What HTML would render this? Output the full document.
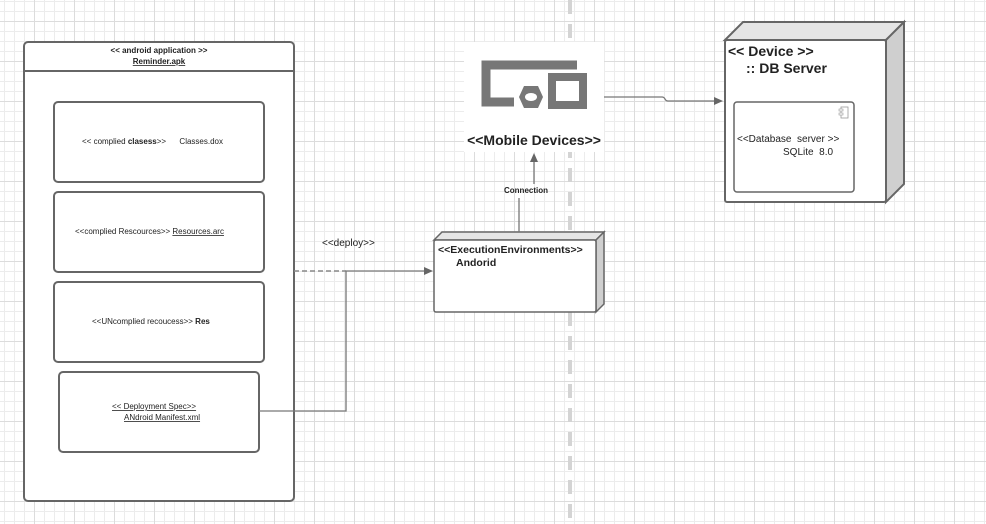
<!DOCTYPE html>
<html><head><meta charset="utf-8"><style>
html,body{margin:0;padding:0;background:#fff;}
svg{display:block;}
text{font-family:"Liberation Sans",Arial,sans-serif;fill:#222;}
</style></head><body>
<svg width="986" height="524" viewBox="0 0 986 524" xmlns="http://www.w3.org/2000/svg">
<defs>
<pattern id="minor" x="4" y="1" width="10" height="10" patternUnits="userSpaceOnUse">
<path d="M0.5 0V10M0 0.5H10" stroke="#ececec" stroke-width="1" fill="none"/>
</pattern>
<pattern id="major" x="34" y="21" width="40" height="40" patternUnits="userSpaceOnUse">
<path d="M0.5 0V40M0 0.5H40" stroke="#dcdcdc" stroke-width="1" fill="none"/>
</pattern>
</defs>
<rect width="986" height="524" fill="url(#minor)"/>
<rect width="986" height="524" fill="url(#major)"/>
<!-- dashed vertical -->
<line x1="570" y1="0" x2="570" y2="524" stroke="#d4d4d4" stroke-width="4" stroke-dasharray="14,10"/>

<!-- app box -->
<rect x="24" y="42" width="270" height="459" rx="4" fill="#fff" stroke="#666" stroke-width="2"/>
<line x1="24" y1="71" x2="294" y2="71" stroke="#666" stroke-width="2"/>
<text x="159" y="53" font-size="8" font-weight="bold" text-anchor="middle">&lt;&lt; android application &gt;&gt;</text>
<text x="159" y="64" font-size="8" font-weight="bold" text-anchor="middle" text-decoration="underline">Reminder.apk</text>

<rect x="54" y="102" width="210" height="80" rx="4" fill="#fff" stroke="#666" stroke-width="2"/>
<text x="82" y="144" font-size="8">&lt;&lt; complied <tspan font-weight="bold">clasess</tspan>&gt;&gt;&#160;&#160;&#160;&#160;&#160; Classes.dox</text>
<rect x="54" y="192" width="210" height="80" rx="4" fill="#fff" stroke="#666" stroke-width="2"/>
<text x="75" y="234" font-size="8">&lt;&lt;complied Rescources&gt;&gt; <tspan text-decoration="underline">Resources.arc</tspan></text>
<rect x="54" y="282" width="210" height="80" rx="4" fill="#fff" stroke="#666" stroke-width="2"/>
<text x="92" y="324" font-size="8">&lt;&lt;UNcomplied recoucess&gt;&gt; <tspan font-weight="bold">Res</tspan></text>
<rect x="59" y="372" width="200" height="80" rx="4" fill="#fff" stroke="#666" stroke-width="2"/>
<text x="112" y="409" font-size="8" text-decoration="underline">&lt;&lt; Deployment Spec&gt;&gt; </text>
<text x="124" y="420" font-size="8" text-decoration="underline">ANdroid Manifest.xml</text>

<!-- connectors -->
<line x1="294" y1="271" x2="346" y2="271" stroke="#888" stroke-width="1.5" stroke-dasharray="5,3"/>
<path d="M259 411H346V271H424" fill="none" stroke="#777" stroke-width="1.3"/>
<path d="M424 267L433 271L424 275Z" fill="#666"/>
<text x="322" y="246" font-size="10" fill="#444">&lt;&lt;deploy&gt;&gt;</text>

<!-- android node -->
<path d="M434 240L442 232H604L596 240Z" fill="#e5e5e5" stroke="#666" stroke-width="1.5"/>
<path d="M596 240L604 232V304L596 312Z" fill="#cfcfcf" stroke="#666" stroke-width="1.5"/>
<rect x="434" y="240" width="162" height="72" rx="2" fill="#fff" stroke="#666" stroke-width="1.5"/>
<text x="438" y="253" font-size="10.5" font-weight="bold">&lt;&lt;ExecutionEnvironments&gt;&gt;</text>
<text x="456" y="266" font-size="10.5" font-weight="bold">Andorid</text>

<!-- connection -->
<line x1="519" y1="232" x2="519" y2="198" stroke="#777" stroke-width="1.3"/>
<text x="526" y="193" font-size="8" font-weight="bold" fill="#444" text-anchor="middle">Connection</text>
<line x1="534" y1="184" x2="534" y2="160" stroke="#777" stroke-width="1.3"/>
<path d="M530 162L534 153L538 162Z" fill="#666"/>

<!-- mobile devices -->
<rect x="464" y="42" width="140" height="110" fill="#fff"/>
<path d="M577 65H486V102H514" fill="none" stroke="#777" stroke-width="9"/>
<rect x="552" y="77" width="31" height="28" fill="none" stroke="#777" stroke-width="8"/>
<path d="M524 86H538L543 97L538 108H524L519 97Z" fill="#777"/>
<ellipse cx="531" cy="97" rx="6" ry="4" fill="#fff"/>
<text x="534" y="145" font-size="14" font-weight="bold" text-anchor="middle">&lt;&lt;Mobile Devices&gt;&gt;</text>

<!-- line to db -->
<path d="M604 97H662Q664 97 665 99Q666 101 668 101H714" fill="none" stroke="#777" stroke-width="1.3"/>
<path d="M714 97L723 101L714 105Z" fill="#666"/>

<!-- db node -->
<path d="M725 40L743 22H904L886 40Z" fill="#e5e5e5" stroke="#666" stroke-width="2"/>
<path d="M886 40L904 22V184L886 202Z" fill="#cfcfcf" stroke="#666" stroke-width="2"/>
<rect x="725" y="40" width="161" height="162" rx="2" fill="#fff" stroke="#666" stroke-width="2"/>
<text x="728" y="56" font-size="14" font-weight="bold">&lt;&lt; Device &gt;&gt;</text>
<text x="746" y="73" font-size="14" font-weight="bold">:: DB Server</text>
<rect x="734" y="102" width="120" height="90" rx="3" fill="#fff" stroke="#666" stroke-width="1.5"/>
<rect x="841" y="107" width="7" height="11" fill="none" stroke="#999" stroke-width="0.8"/>
<rect x="839" y="109" width="4" height="2" fill="#fff" stroke="#999" stroke-width="0.6"/>
<rect x="839" y="113" width="4" height="2" fill="#fff" stroke="#999" stroke-width="0.6"/>
<text x="737" y="142" font-size="10" fill="#444">&lt;&lt;Database&#160; server &gt;&gt;</text>
<text x="783" y="155" font-size="10" fill="#444">SQLite&#160; 8.0</text>
</svg>
</body></html>
